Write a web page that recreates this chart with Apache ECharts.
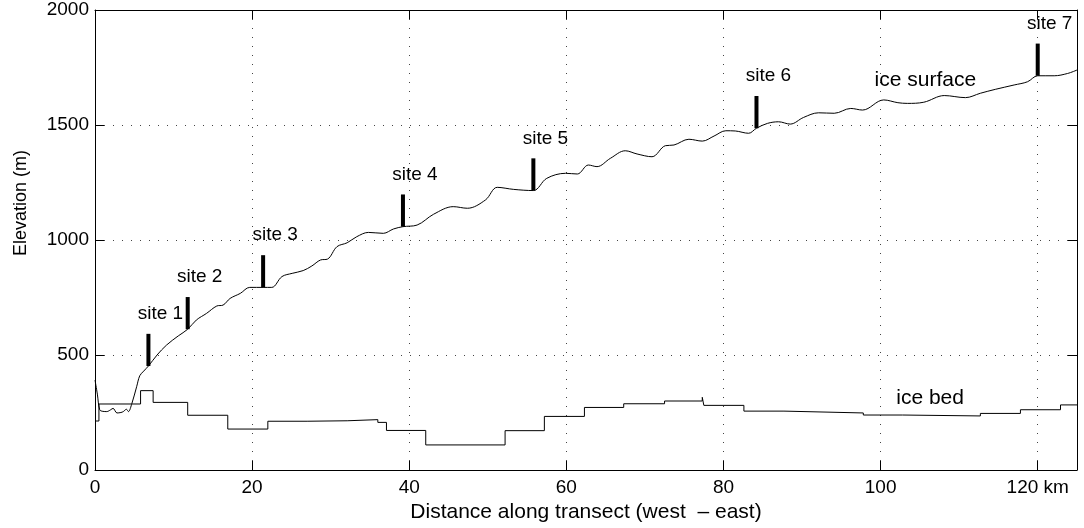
<!DOCTYPE html>
<html>
<head>
<meta charset="utf-8">
<script src="https://cdn.jsdelivr.net/npm/echarts@6/dist/echarts.min.js"></script>
<style>
  html, body { margin: 0; padding: 0; background: #fff; }
  #chart { width: 1084px; height: 528px; }
</style>
</head>
<body>
<div id="chart"></div>
<script>
// Ice surface profile along the transect (km, m)
const surfaceKm = [
  0, 0.3, 0.6, 1.0, 1.5, 2.0, 2.3, 2.8, 3.3, 3.6, 4.0, 4.25, 4.7, 5.3, 5.7, 6.2,
  6.8, 7.9, 9.1, 10.6, 11.8, 12.9, 14.2, 15.5, 16.3, 17.2, 18.5, 19.7, 21.4, 22.5,
  23.8, 25.1, 26.5, 27.6, 28.7, 29.6, 30.8, 32.1, 33.3, 34.8, 36.7, 38.0, 39.2,
  41.0, 43.1, 45.6, 47.4, 49.7, 51.2, 53.3, 55.8, 57.5, 59.9, 61.4, 62.8, 63.9,
  65.6, 67.5, 69.0, 70.9, 72.6, 73.7, 75.6, 77.3, 78.8, 80.3, 81.5, 83.2, 84.2,
  85.6, 87.0, 88.5, 90.2, 92.1, 94.1, 96.2, 97.7, 100.4, 102.2, 103.4, 105.5,
  108.1, 110.8, 112.7, 114.6, 117.0, 118.7, 120.0, 122.1, 123.8, 125.0
];
const surfaceElev = [
  391, 330, 262, 255, 254, 262, 268, 248, 250, 254, 264, 254, 290, 362, 410, 430,
  452, 500, 543, 583, 612, 652, 681, 713, 717, 746, 768, 794, 794, 794,
  841, 855, 867, 887, 913, 917, 971, 988, 1014, 1033, 1029, 1048, 1058,
  1065, 1112, 1145, 1138, 1174, 1229, 1220, 1215, 1268, 1290, 1287, 1326, 1319,
  1355, 1388, 1374, 1362, 1410, 1413, 1438, 1430, 1452, 1475, 1474, 1464, 1486,
  1507, 1514, 1504, 1533, 1553, 1551, 1572, 1565, 1609, 1597, 1594, 1599,
  1628, 1619, 1638, 1655, 1674, 1688, 1714, 1714, 1724, 1739
];

// Ice bed, piecewise constant: each value holds until the next km
const bedKm = [
  0, 0.5, 5.8, 7.4, 11.8, 16.9, 22.0, 27.0, 32.1, 36.0, 37.1, 42.1, 52.2, 57.2,
  62.3, 67.3, 72.5, 77.3, 77.5, 82.6, 87.7, 97.8, 102.8, 112.7, 117.8, 122.9, 125
];
const bedElev = [
  213, 287, 345, 294, 238, 178, 212, 214, 219, 207, 172, 109, 171, 233,
  272, 288, 300, 316, 281, 256, 248, 239, 235, 246, 262, 283, 283
];

// Survey sites on the surface
const siteNames = ['site 1', 'site 2', 'site 3', 'site 4', 'site 5', 'site 6', 'site 7'];
const siteKm = [6.8, 11.8, 21.4, 39.2, 55.8, 84.2, 120.0];
const siteElev = [452, 612, 794, 1058, 1215, 1486, 1714];
const siteMarkHeight = 140;

// Curve annotations (text, km, m)
const curveLabelText = ['ice surface', 'ice bed'];
const curveLabelKm = [105.7, 106.3];
const curveLabelElev = [1696, 313];

// Axis ticks
const xTickStep = 20;
const xMax = 125;
const yTickStep = 500;
const yMax = 2000;
const xUnitTick = 120;

const FONT = '"Liberation Sans", Arial, Helvetica, sans-serif';
const chart = echarts.init(document.getElementById('chart'), null, { renderer: 'canvas' });

const axisLineStyle = () => ({ show: true, onZero: false, lineStyle: { color: '#000', width: 1 } });
const tickStyle = () => ({ show: true, inside: true, length: 9, lineStyle: { color: '#000', width: 1 } });
const gridDots = () => ({ show: true, lineStyle: { color: '#444', width: 1, type: [1, 8] } });

const option = {
  animation: false,
  backgroundColor: '#fff',
  grid: { left: 95, right: 7, top: 10, bottom: 58, outerBoundsMode: 'none', containLabel: false },
  xAxis: [
    {
      type: 'value', position: 'bottom', min: 0, max: xMax, interval: xTickStep,
      axisLine: axisLineStyle(), axisTick: tickStyle(), splitLine: gridDots(),
      axisLabel: {
        show: true, color: '#000', fontFamily: FONT, fontSize: 19, margin: 8,
        showMaxLabel: false,
        formatter: v => (v === xUnitTick ? v + ' km' : String(v))
      },
      name: 'Distance along transect (west  \u2013 east)',
      nameLocation: 'middle', nameGap: 23,
      nameTextStyle: { color: '#000', fontFamily: FONT, fontSize: 21 }
    },
    {
      type: 'value', position: 'top', min: 0, max: xMax, interval: xTickStep,
      axisLine: axisLineStyle(), axisTick: tickStyle(), splitLine: { show: false },
      axisLabel: { show: false }
    }
  ],
  yAxis: [
    {
      type: 'value', position: 'left', min: 0, max: yMax, interval: yTickStep,
      axisLine: axisLineStyle(), axisTick: tickStyle(), splitLine: gridDots(),
      axisLabel: { show: true, color: '#000', fontFamily: FONT, fontSize: 19, margin: 6,
                   formatter: v => String(v) }
    },
    {
      type: 'value', position: 'right', min: 0, max: yMax, interval: yTickStep,
      axisLine: axisLineStyle(), axisTick: tickStyle(), splitLine: { show: false },
      axisLabel: { show: false }
    }
  ],
  graphic: [
    {
      type: 'text', x: 21, y: 203, rotation: Math.PI / 2,
      style: { text: 'Elevation (m)', fill: '#000', fontFamily: FONT, fontSize: 18,
               align: 'center', verticalAlign: 'middle' }
    }
  ],
  series: [
    {
      name: 'ice surface', type: 'line', xAxisIndex: 0, yAxisIndex: 0,
      data: surfaceKm.map((k, i) => [k, surfaceElev[i]]),
      showSymbol: false, symbol: 'none', smooth: 0.35,
      lineStyle: { color: '#000', width: 1 }, silent: true
    },
    {
      name: 'ice bed', type: 'line', xAxisIndex: 0, yAxisIndex: 0,
      data: bedKm.map((k, i) => [k, bedElev[i]]),
      step: 'end', showSymbol: false, symbol: 'none',
      lineStyle: { color: '#000', width: 1 }, silent: true
    },
    {
      name: 'sites', type: 'custom', xAxisIndex: 0, yAxisIndex: 0,
      data: siteKm.map((k, i) => [k, siteElev[i], siteElev[i] + siteMarkHeight]),
      renderItem: (params, api) => {
        const base = api.coord([api.value(0), api.value(1)]);
        const top = api.coord([api.value(0), api.value(2)]);
        return {
          type: 'group',
          children: [
            { type: 'line', shape: { x1: base[0], y1: base[1], x2: top[0], y2: top[1] },
              style: { stroke: '#000', lineWidth: 4 } },
            { type: 'text', x: top[0] + 12, y: top[1] - 20,
              style: { text: siteNames[params.dataIndex], fill: '#000', fontFamily: FONT,
                       fontSize: 19, align: 'center', verticalAlign: 'middle' } }
          ]
        };
      },
      silent: true
    },
    {
      name: 'curve labels', type: 'custom', xAxisIndex: 0, yAxisIndex: 0,
      data: curveLabelKm.map((k, i) => [k, curveLabelElev[i]]),
      renderItem: (params, api) => {
        const p = api.coord([api.value(0), api.value(1)]);
        return { type: 'text', x: p[0], y: p[1],
          style: { text: curveLabelText[params.dataIndex], fill: '#000', fontFamily: FONT,
                   fontSize: 21, align: 'center', verticalAlign: 'middle' } };
      },
      silent: true
    }
  ]
};

chart.setOption(option);
</script>
</body>
</html>
